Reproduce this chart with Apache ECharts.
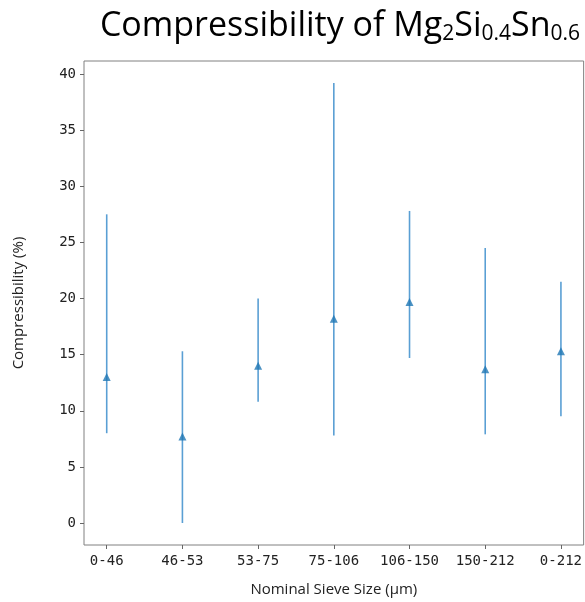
<!DOCTYPE html>
<html>
<head>
<meta charset="utf-8">
<script src="https://cdn.jsdelivr.net/npm/echarts@6/dist/echarts.min.js"></script>
<style>
html,body{margin:0;padding:0;background:#fff;}
#main{width:585px;height:602px;}
</style>
</head>
<body>
<div id="main"></div>
<script>
const categories = ['0-46','46-53','53-75','75-106','106-150','150-212','0-212'];
const meanValues = [13.0, 7.7, 14.0, 18.2, 19.7, 13.7, 15.3];
const lowValues  = [8.0, 0.0, 10.8, 7.8, 14.7, 7.9, 9.5];
const highValues = [27.5, 15.3, 20.0, 39.2, 27.8, 24.5, 21.5];
const yTicks = [0, 5, 10, 15, 20, 25, 30, 35, 40];

const chart = echarts.init(document.getElementById('main'));
const idx = categories.map((c, i) => i);
const option = {
  animation: false,
  backgroundColor: '#fff',
  title: {
    text: 'Compressibility of Mg{s|2}Si{s|0.4}Sn{s|0.6}',
    left: 335, top: 3, textAlign: 'center',
    textStyle: {
      fontFamily: 'Open Sans', fontSize: 34, fontWeight: 'normal', color: '#000',
      rich: { s: { fontFamily: 'Open Sans', fontSize: 21, color: '#000', padding: [16, 0, 0, 0] } }
    }
  },
  grid: { left: 84, right: 1, top: 61, bottom: 54, show: true, borderColor: '#808080', borderWidth: 1, containLabel: false },
  xAxis: {
    type: 'value', min: -0.3, max: 6.3,
    splitLine: { show: false },
    axisLine: { show: false, onZero: false },
    axisTick: { show: true, length: 4, customValues: idx, lineStyle: { color: '#666' } },
    axisLabel: {
      customValues: idx, margin: 9,
      fontFamily: 'DejaVu Sans Mono', fontSize: 14, color: '#222',
      formatter: v => categories[Math.round(v)]
    },
    name: 'Nominal Sieve Size (μm)', nameLocation: 'middle', nameGap: 37,
    nameTextStyle: { fontFamily: 'Open Sans', fontSize: 15, color: '#222' }
  },
  yAxis: {
    type: 'value', min: -1.96, max: 41.16,
    splitLine: { show: false },
    axisLine: { show: false, onZero: false },
    axisTick: { show: true, length: 4, customValues: yTicks, lineStyle: { color: '#666' } },
    axisLabel: {
      customValues: yTicks, margin: 8,
      fontFamily: 'DejaVu Sans Mono', fontSize: 14, color: '#222'
    },
    name: 'Compressibility (%)', nameLocation: 'middle', nameGap: 58, nameRotate: 90,
    nameTextStyle: { fontFamily: 'Open Sans', fontSize: 15, color: '#222' }
  },
  series: [
    {
      type: 'custom',
      data: idx.map(i => [i, lowValues[i], highValues[i]]),
      renderItem: function (params, api) {
        const lo = api.coord([api.value(0), api.value(1)]);
        const hi = api.coord([api.value(0), api.value(2)]);
        return {
          type: 'line',
          shape: { x1: lo[0], y1: lo[1], x2: hi[0], y2: hi[1] },
          style: { stroke: '#5a9fd4', lineWidth: 1.6 }
        };
      },
      z: 2
    },
    {
      type: 'scatter',
      data: idx.map(i => [i, meanValues[i]]),
      symbol: 'triangle', symbolSize: 8,
      itemStyle: { color: '#1f77b4' },
      z: 3
    }
  ]
};
chart.setOption(option);
</script>
</body>
</html>
